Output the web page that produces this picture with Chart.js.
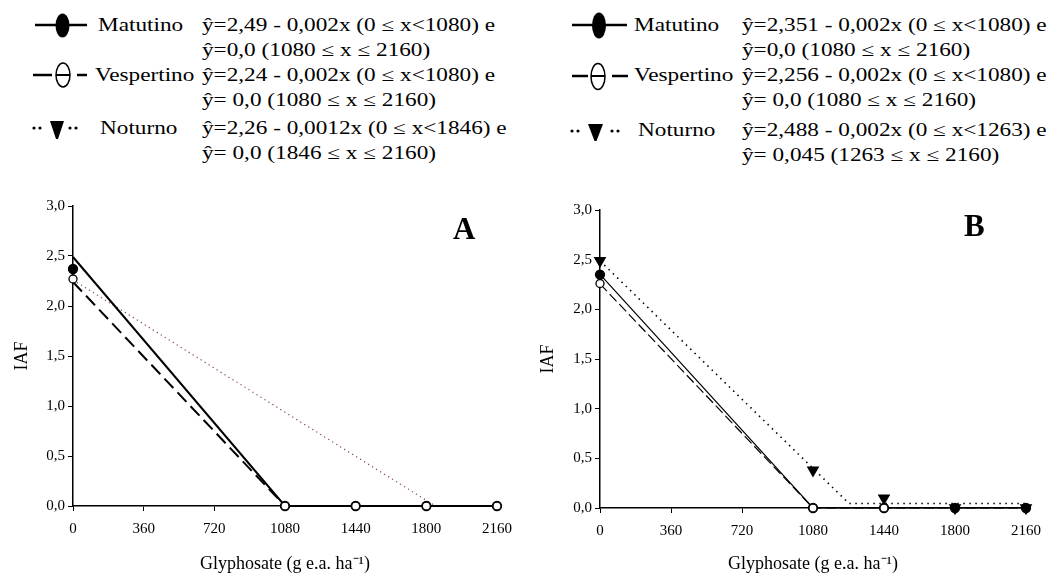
<!DOCTYPE html>
<html>
<head>
<meta charset="utf-8">
<script src="https://cdn.jsdelivr.net/npm/chart.js@4.4.1/dist/chart.umd.min.js"></script>
<style>
body { margin: 0; background: #fff; width: 1053px; height: 575px; position: relative; overflow: hidden; font-family: "Liberation Serif", "Times New Roman", serif; color: #000; }
.t { position: absolute; font-size: 18px; line-height: 18px; white-space: nowrap; transform: scaleX(1.29); transform-origin: 0 0; }
.panel { position: absolute; top: 190px; height: 385px; }
.tag { position: absolute; font-weight: bold; font-size: 31px; line-height: 31px; }
</style>
</head>
<body>

<svg width="1053" height="190" style="position:absolute;left:0;top:0">
  <!-- legenda esquerda -->
  <line x1="35" y1="25" x2="87" y2="25" stroke="#000" stroke-width="2.5"/>
  <ellipse cx="62.5" cy="25.5" rx="7" ry="12" fill="#000"/>
  <line x1="33" y1="75" x2="52" y2="75" stroke="#000" stroke-width="2.5"/>
  <line x1="56" y1="75" x2="70" y2="75" stroke="#000" stroke-width="2"/>
  <ellipse cx="63" cy="75" rx="7" ry="12" fill="none" stroke="#000" stroke-width="1.5"/>
  <line x1="77" y1="75" x2="87" y2="75" stroke="#000" stroke-width="2.5"/>
  <circle cx="34" cy="128" r="1.6" fill="#000"/><circle cx="40" cy="128" r="1.6" fill="#000"/>
  <polygon points="50,121 64,121 58,139 56,139" fill="#000"/>
  <circle cx="70" cy="128" r="1.6" fill="#000"/><circle cx="76" cy="128" r="1.6" fill="#000"/>
  <!-- legenda direita -->
  <line x1="572" y1="25" x2="627" y2="25" stroke="#000" stroke-width="2.5"/>
  <ellipse cx="599" cy="25.5" rx="7" ry="13" fill="#000"/>
  <line x1="572" y1="76" x2="588" y2="76" stroke="#000" stroke-width="2.5"/>
  <line x1="591" y1="76" x2="605" y2="76" stroke="#000" stroke-width="2"/>
  <ellipse cx="598" cy="76.5" rx="7" ry="13" fill="none" stroke="#000" stroke-width="1.5"/>
  <line x1="612" y1="76" x2="628" y2="76" stroke="#000" stroke-width="2.5"/>
  <circle cx="572" cy="131" r="1.6" fill="#000"/><circle cx="578" cy="131" r="1.6" fill="#000"/>
  <polygon points="588,124 603,124 596.5,141 594.5,141" fill="#000"/>
  <circle cx="612" cy="131" r="1.6" fill="#000"/><circle cx="618" cy="131" r="1.6" fill="#000"/>
</svg>

<div class="t" style="left:98px;top:16px">Matutino</div>
<div class="t" style="left:202px;top:16px">ŷ=2,49 - 0,002x (0 ≤ x&lt;1080) e</div>
<div class="t" style="left:202px;top:41px">ŷ=0,0 (1080 ≤ x ≤ 2160)</div>
<div class="t" style="left:95px;top:66px">Vespertino</div>
<div class="t" style="left:202px;top:66px">ŷ=2,24 - 0,002x (0 ≤ x&lt;1080) e</div>
<div class="t" style="left:202px;top:91px">ŷ= 0,0 (1080 ≤ x ≤ 2160)</div>
<div class="t" style="left:100px;top:119px">Noturno</div>
<div class="t" style="left:202px;top:119px">ŷ=2,26 - 0,0012x (0 ≤ x&lt;1846) e</div>
<div class="t" style="left:202px;top:144px">ŷ= 0,0 (1846 ≤ x ≤ 2160)</div>

<div class="t" style="left:634px;top:16px">Matutino</div>
<div class="t" style="left:742px;top:16px">ŷ=2,351 - 0,002x (0 ≤ x&lt;1080) e</div>
<div class="t" style="left:742px;top:41px">ŷ=0,0 (1080 ≤ x ≤ 2160)</div>
<div class="t" style="left:634px;top:66px">Vespertino</div>
<div class="t" style="left:742px;top:66px">ŷ=2,256 - 0,002x (0 ≤ x&lt;1080) e</div>
<div class="t" style="left:742px;top:91px">ŷ= 0,0 (1080 ≤ x ≤ 2160)</div>
<div class="t" style="left:638px;top:121px">Noturno</div>
<div class="t" style="left:742px;top:121px">ŷ=2,488 - 0,002x (0 ≤ x&lt;1263) e</div>
<div class="t" style="left:742px;top:146px">ŷ= 0,045 (1263 ≤ x ≤ 2160)</div>

<div class="panel" style="left:0;width:530px"><canvas id="chart__a"></canvas></div>
<div class="panel" style="left:530px;width:523px"><canvas id="chart__b"></canvas></div>

<div class="tag" style="left:453px;top:213px">A</div>
<div class="tag" style="left:964px;top:210px">B</div>

<script>
// doses de glyphosate (g e.a. ha-1)
const doses = [0, 1080, 1440, 1800, 2160]
const xTicks = [0, 360, 720, 1080, 1440, 1800, 2160]

// valores observados de IAF
const matutinoA = [2.37, 0, 0, 0, 0]
const vespertinoA = [2.27, 0, 0, 0, 0]
const matutinoB = [2.35, 0, 0, 0, 0]
const vespertinoB = [2.26, 0, 0, null, null]
const noturnoB = [2.49, 0.38, 0.10, 0, 0]

// modelos ajustados (pontos de quebra)
const fitMatutinoAX = [0, 1080, 2160]
const fitMatutinoAY = [2.49, 0, 0]
const fitVespertinoAX = [0, 1080, 2160]
const fitVespertinoAY = [2.24, 0, 0]
const fitNoturnoAX = [0, 1846, 2160]
const fitNoturnoAY = [2.26, 0, 0]

const fitMatutinoBX = [0, 1080, 2160]
const fitMatutinoBY = [2.351, 0, 0]
const fitVespertinoBX = [0, 1080, 2160]
const fitVespertinoBY = [2.256, 0, 0]
const fitNoturnoBX = [0, 1263, 2160]
const fitNoturnoBY = [2.488, 0.045, 0.045]

const toPoints = (xs, ys) => xs.map((x, i) => ({ x: x, y: ys[i] })).filter(p => p.y !== null)

function fitLine(xs, ys, style) {
    return Object.assign({
        data: toPoints(xs, ys),
        showLine: true,
        pointRadius: 0,
        pointHoverRadius: 0,
        borderColor: '#000',
        tension: 0,
        clip: false
    }, style)
}

function markers(xs, ys, style) {
    return Object.assign({
        data: toPoints(xs, ys),
        showLine: false,
        pointBorderColor: '#000',
        pointBorderWidth: 1.3,
        clip: false
    }, style)
}

const tickFont = { family: 'Liberation Serif', size: 15 }
const titleFont = { family: 'Liberation Serif', size: 18 }

function makeChart(canvas, datasets, box) {
    return new Chart(canvas, {
        type: 'scatter',
        data: { datasets: datasets },
        options: {
            responsive: true,
            maintainAspectRatio: false,
            animation: false,
            layout: { padding: { left: 0, top: box.top, right: box.right, bottom: 0 } },
            plugins: { legend: { display: false }, tooltip: { enabled: false } },
            scales: {
                x: {
                    type: 'linear',
                    min: 0,
                    max: 2160,
                    afterBuildTicks: scale => { scale.ticks = xTicks.map(v => ({ value: v })) },
                    afterFit: scale => { scale.height = box.xHeight },
                    grid: { drawOnChartArea: false, drawTicks: true, tickLength: 5, color: '#000', lineWidth: 1 },
                    border: { color: '#000', width: 1.5 },
                    ticks: { color: '#000', font: tickFont, padding: 9, maxRotation: 0, autoSkip: false, callback: v => String(v) },
                    title: { display: true, text: 'Glyphosate (g e.a. ha⁻¹)', color: '#000', font: titleFont, padding: { top: 0, bottom: 0 } }
                },
                y: {
                    min: 0,
                    max: 3,
                    ticks: { stepSize: 0.5, color: '#000', font: tickFont, padding: 3, callback: v => v.toFixed(1).replace('.', ',') },
                    afterFit: scale => { scale.width = box.yWidth },
                    grid: { drawOnChartArea: false, drawTicks: true, tickLength: 5, color: '#000', lineWidth: 1 },
                    border: { color: '#000', width: 1.5 },
                    title: { display: true, text: 'IAF', color: '#000', font: titleFont, padding: { top: box.titlePad, bottom: 0 } }
                }
            }
        }
    })
}

// painel A
makeChart(document.getElementById('chart__a'), [
    markers(doses, vespertinoA, { pointStyle: 'circle', pointRadius: 4, pointBackgroundColor: '#fff' }),
    markers(doses, matutinoA, { pointStyle: 'circle', pointRadius: 4.5, pointBackgroundColor: '#000' }),
    fitLine(fitMatutinoAX, fitMatutinoAY, { borderWidth: 2 }),
    fitLine(fitVespertinoAX, fitVespertinoAY, { borderWidth: 2, borderDash: [13, 6] }),
    fitLine(fitNoturnoAX, fitNoturnoAY, { borderWidth: 1.2, borderDash: [1.2, 3.5], borderColor: '#8a4040' })
], { top: 16, right: 33, xHeight: 69, yWidth: 73, titlePad: 11 })

// painel B
makeChart(document.getElementById('chart__b'), [
    markers(doses, vespertinoB, { pointStyle: 'circle', pointRadius: 4, pointBackgroundColor: '#fff' }),
    markers(doses, noturnoB, { pointStyle: 'triangle', pointRotation: 180, pointRadius: 6, pointBackgroundColor: '#000' }),
    markers(doses, matutinoB, { pointStyle: 'circle', pointRadius: 4.5, pointBackgroundColor: '#000' }),
    fitLine(fitMatutinoBX, fitMatutinoBY, { borderWidth: 1.2 }),
    fitLine(fitVespertinoBX, fitVespertinoBY, { borderWidth: 1.2, borderDash: [10, 4] }),
    fitLine(fitNoturnoBX, fitNoturnoBY, { borderWidth: 1.6, borderDash: [1.5, 4.5] })
], { top: 20, right: 27, xHeight: 67, yWidth: 70, titlePad: 7 })
</script>
</body>
</html>
